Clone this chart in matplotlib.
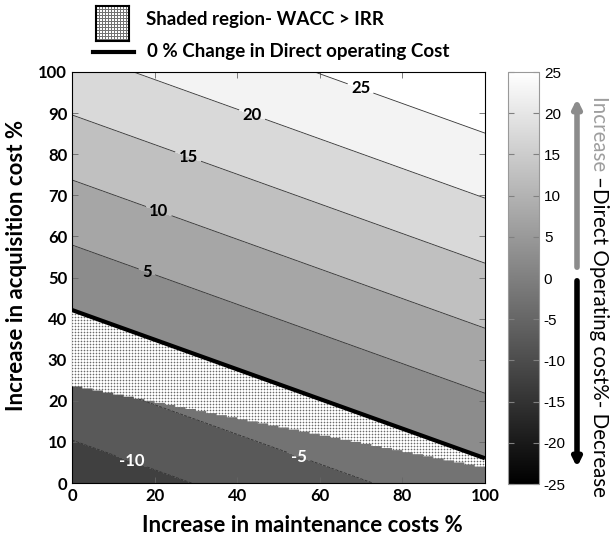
import numpy as np
import matplotlib
matplotlib.use('Agg')
import matplotlib.pyplot as plt
from matplotlib.colors import Normalize
from matplotlib.cm import ScalarMappable
from matplotlib.patches import Polygon, FancyArrowPatch
from matplotlib.lines import Line2D

plt.rcParams['font.family'] = ['Lato', 'DejaVu Sans']
plt.rcParams['font.weight'] = 'bold'
plt.rcParams['axes.unicode_minus'] = False

# datos
maint_pct = [0, 100]            # eje x
acq_pct = [0, 100]              # eje y
# cambio en DOC (%) en las esquinas: filas = adquisicion, columnas = mantenimiento
doc_change = [[-13.3, -1.9],
              [18.3, 29.7]]
levels = [-25, -20, -15, -10, -5, 0, 5, 10, 15, 20, 25, 30]
label_pos = [(69.5, 95), (43, 88), (27.6, 78), (20.6, 65), (18, 51), (55, 6.3), (14.3, 5.1)]
shade_x = [0, 100]
shade_lower = [23.5, 3.5]       # limite inferior de la zona WACC > IRR
cbar_ticks = [-25, -20, -15, -10, -5, 0, 5, 10, 15, 20, 25]

W, H = 610, 542
fig = plt.figure(figsize=(W / 100, H / 100), dpi=100)
ax = fig.add_axes([72 / W, 1 - 483 / H, 413 / W, 411 / H])
cax = fig.add_axes([508 / W, 1 - 484 / H, 31 / W, 412 / H])

X, Y = np.meshgrid(maint_pct, acq_pct)
Z = np.array(doc_change)
norm = Normalize(-25, 25)

ax.contourf(X, Y, Z, levels=levels, cmap='gray', norm=norm)
thin = [l for l in levels if l != 0]
cs = ax.contour(X, Y, Z, levels=thin, colors='0.2', linewidths=0.6)
labs = ax.clabel(cs, fmt='%d', manual=label_pos, inline=True, fontsize=12, inline_spacing=4)
for t in labs:
    t.set_fontweight('bold')
    t.set_rotation(0)
    t.set_color('white' if float(t.get_text()) < 0 else 'black')

# zona sombreada WACC > IRR (escalonada)
zero_left = np.interp(0, [Z[0, 0], Z[1, 0]], acq_pct)
zero_right = np.interp(0, [Z[0, 1], Z[1, 1]], acq_pct)
xs = np.arange(0, 100.01, 2.5)
low = np.interp(xs[:-1], shade_x, shade_lower)
verts = []
for i in range(len(xs) - 1):
    verts.append((xs[i], low[i]))
    verts.append((xs[i + 1], low[i]))
verts += [(100, zero_right), (0, zero_left)]
poly = Polygon(verts, closed=True, facecolor='none', edgecolor='none')
ax.add_patch(poly)

ii, jj = np.mgrid[0:411, 0:413]
tex = np.ones((411, 413))
tex[(ii % 3 == 0) | (jj % 3 == 0)] = 0.84
tex[(ii % 3 == 0) & (jj % 3 == 0)] = 0.42
im = ax.imshow(tex, cmap='gray', vmin=0, vmax=1, extent=[0, 100, 0, 100],
               origin='lower', interpolation='nearest', aspect='auto', zorder=3)
im.set_clip_path(poly)

ax.contour(X, Y, Z, levels=[0], colors='k', linewidths=3, zorder=4)

ax.set_xlim(0, 100)
ax.set_ylim(0, 100)
ax.set_xticks(range(0, 101, 20))
ax.set_yticks(range(0, 101, 10))
ax.tick_params(direction='in', top=True, right=True, length=4, labelsize=12, width=0.6, color='0.4')
ax.set_xlabel('Increase in maintenance costs %', fontsize=16, fontweight='bold')
ax.set_ylabel('Increase in acquisition cost %', fontsize=16, fontweight='bold')
ax.xaxis.set_label_coords(0.557, -0.078)
ax.yaxis.set_label_coords(-0.109, 0.53)

cb = fig.colorbar(ScalarMappable(norm=norm, cmap='gray'), cax=cax)
cb.set_ticks(cbar_ticks)
cb.outline.set_edgecolor('0.6')
cax.tick_params(direction='in', left=True, right=True, length=4, color='0.5', labelsize=11)
for t in cax.get_yticklabels():
    t.set_fontweight('normal')
    t.set_fontfamily(['Liberation Sans', 'DejaVu Sans'])

# leyenda manual
lax = fig.add_axes([96 / W, 1 - 41 / H, 33 / W, 35 / H])
pi, pj = np.mgrid[0:35, 0:33]
ptex = np.ones((35, 33))
ptex[(pi % 3 == 0) | (pj % 3 == 0)] = 0.45
lax.imshow(ptex, cmap='gray', vmin=0, vmax=1, interpolation='nearest', aspect='auto')
lax.set_xticks([])
lax.set_yticks([])
for s in lax.spines.values():
    s.set_linewidth(1.5)
fig.add_artist(Line2D([93 / W, 134 / W], [1 - 52 / H] * 2, color='k', lw=3, transform=fig.transFigure))
fig.text(146 / W, 1 - 19 / H, 'Shaded region- WACC > IRR', fontsize=13.5, va='center', ha='left')
fig.text(147 / W, 1 - 52 / H, '0 % Change in Direct operating Cost', fontsize=13.5, va='center', ha='left')

# flechas y texto a la derecha
fig.add_artist(FancyArrowPatch((577 / W, 1 - 270 / H), (577 / W, 1 - 96 / H), transform=fig.transFigure,
                               arrowstyle='-|>', mutation_scale=12, lw=4, color='0.55'))
fig.add_artist(FancyArrowPatch((577 / W, 1 - 278 / H), (577 / W, 1 - 470 / H), transform=fig.transFigure,
                               arrowstyle='-|>', mutation_scale=12, lw=4, color='k'))
t1 = fig.text(599 / W, 1 - 96 / H, 'Increase ', rotation=-90, ha='center', va='top',
              fontsize=14.8, fontweight='normal', color='0.62')
fig.canvas.draw()
bb = t1.get_window_extent()
fig.text(599 / W, bb.y0 / H, '\u2013Direct Operating cost%- Decrease', rotation=-90, ha='center', va='top',
         fontsize=14.8, fontweight='normal', color='k')

fig.savefig('out.png', dpi=100)
